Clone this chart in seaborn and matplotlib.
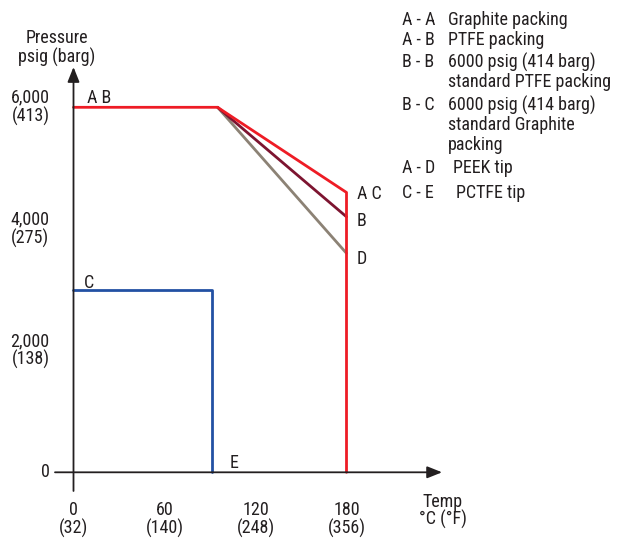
import matplotlib
matplotlib.use('Agg')
import matplotlib.pyplot as plt
import seaborn as sns
import pandas as pd

# pressure / temperature rating data (temp in deg C, pressure in psig)
red_temp = [0, 95, 180, 180]
red_psig = [6000, 6000, 4600, 0]
maroon_temp = [95, 180]
maroon_psig = [6000, 4200]
gray_temp = [95, 180]
gray_psig = [6000, 3600]
blue_temp = [0, 91, 91]
blue_psig = [3000, 3000, 0]

x_ticks = [0, 60, 120, 180]
x_labels = ['0\n(32)', '60\n(140)', '120\n(248)', '180\n(356)']
y_ticks = [0, 2000, 4000, 6000]
y_labels = ['0', '2,000\n(138)', '4,000\n(275)', '6,000\n(413)']

key_codes = ['A - A', 'A - B', 'B - B', 'B - C', 'A - D', 'C - E']
key_texts = ['Graphite packing', 'PTFE packing',
             '6000 psig (414 barg)\nstandard PTFE packing',
             '6000 psig (414 barg)\nstandard Graphite\npacking',
             'PEEK tip', 'PCTFE tip']

sns.set_style('white')
plt.rcParams['font.family'] = ['Liberation Sans Narrow', 'Roboto Condensed',
                               'DejaVu Sans Condensed', 'Roboto', 'DejaVu Sans']
plt.rcParams['font.stretch'] = 'condensed'
plt.rcParams['font.size'] = 13

ink = '#231f20'
W, H = 619, 541
fig = plt.figure(figsize=(W / 100, H / 100), dpi=100)
ax = fig.add_axes([30 / W, 41 / H, 420 / W, 440 / H])
ax.set_xlim(-28.68, 248.24)
ax.set_ylim(-455.3, 6777.6)

# curves
sns.lineplot(x=gray_temp, y=gray_psig, ax=ax, color='#8c8275', lw=2, sort=False, estimator=None)
sns.lineplot(x=maroon_temp, y=maroon_psig, ax=ax, color='#7d1430', lw=2, sort=False, estimator=None)
sns.lineplot(x=blue_temp, y=blue_psig, ax=ax, color='#2251a3', lw=2, sort=False, estimator=None)
sns.lineplot(x=red_temp, y=red_psig, ax=ax, color='#ee1c25', lw=2, sort=False, estimator=None)

# axes as arrows crossing at the origin
for s in ax.spines.values():
    s.set_visible(False)
ax.spines['left'].set_position(('data', 0))
ax.spines['bottom'].set_position(('data', 0))
arrow = dict(arrowstyle='-|>,head_length=0.5,head_width=0.2', color=ink, lw=1.3,
             mutation_scale=18, shrinkA=0, shrinkB=0)
ax.annotate('', xy=(0, 6662), xytext=(0, -307), arrowprops=arrow, annotation_clip=False)
ax.annotate('', xy=(243, 0), xytext=(-12.2, 0), arrowprops=arrow, annotation_clip=False)

ax.set_xticks(x_ticks)
ax.set_xticklabels(x_labels, linespacing=1.0)
ax.set_yticks(y_ticks)
ax.set_yticklabels(y_labels, linespacing=1.0, ha='right', va='center')
ax.tick_params(axis='x', direction='out', length=11.5, width=1.2, color=ink, pad=9, labelcolor=ink)
ax.tick_params(axis='y', direction='out', length=13.3, width=1.2, color=ink, pad=4, labelcolor=ink)
ax.grid(False)

# point labels
ax.text(8.9, 6153, 'A B', ha='left', va='center', color=ink)
ax.text(186.9, 4575, 'A C', ha='left', va='center', color=ink)
ax.text(186.9, 4131, 'B', ha='left', va='center', color=ink)
ax.text(186.9, 3507, 'D', ha='left', va='center', color=ink)
ax.text(6.9, 3112, 'C', ha='left', va='center', color=ink)
ax.text(103.2, 153, 'E', ha='left', va='center', color=ink)

# axis titles
fig.text(56.5 / W, 1 - 48 / H, 'Pressure\npsig (barg)', ha='center', va='center',
         linespacing=1.0, color=ink)
fig.text(443 / W, 1 - 511 / H, 'Temp\n°C (°F)', ha='center', va='center',
         linespacing=0.95, color=ink)

# key on the right
entry_y = [20, 40, 62, 105, 168, 193]
text_x = [448, 448, 448, 448, 453, 456]
for code, txt, yy, tx in zip(key_codes, key_texts, entry_y, text_x):
    fig.text(402 / W, 1 - yy / H, code, ha='left', va='center', color=ink)
    for i, line in enumerate(txt.split('\n')):
        fig.text(tx / W, 1 - (yy + 20 * i) / H, line, ha='left', va='center', color=ink)

fig.savefig('out.png', dpi=100)
